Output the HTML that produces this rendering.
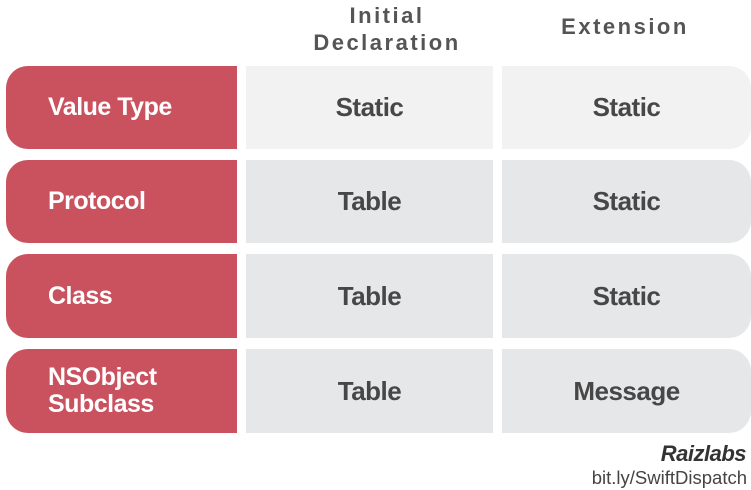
<!DOCTYPE html>
<html><head><style>
body{margin:0;width:751px;height:490px;background:#fff;position:relative;overflow:hidden;font-family:"Liberation Sans",sans-serif}
.a{position:absolute}
.r{background:#c9525e;border-radius:22px 0 0 22px;left:6px;width:231px;color:#fff;font-weight:bold;font-size:25px;display:flex;align-items:center;padding-left:42px;box-sizing:border-box;line-height:27px;letter-spacing:-0.5px}
.c{background:#e6e7e8;color:#474747;font-weight:bold;font-size:26px;display:flex;align-items:center;justify-content:center;letter-spacing:-0.5px}
.c2{left:246px;width:247px}
.c3{left:502px;width:249px;border-radius:0 22px 22px 0}
.h{color:#555;font-size:22px;font-weight:bold;letter-spacing:2.5px;text-align:center;line-height:27px}
</style></head><body>
<div class="a h" style="left:287px;width:200px;top:2px">Initial<br>Declaration</div>
<div class="a h" style="left:525px;width:200px;top:13px">Extension</div>

<div class="a r" style="top:66px;height:83px">Value Type</div>
<div class="a c c2" style="top:66px;height:83px;background:#f2f2f2">Static</div>
<div class="a c c3" style="top:66px;height:83px;background:#f2f2f2">Static</div>

<div class="a r" style="top:160px;height:83px">Protocol</div>
<div class="a c c2" style="top:160px;height:83px">Table</div>
<div class="a c c3" style="top:160px;height:83px">Static</div>

<div class="a r" style="top:254px;height:84px">Class</div>
<div class="a c c2" style="top:254px;height:84px">Table</div>
<div class="a c c3" style="top:254px;height:84px">Static</div>

<div class="a r" style="top:349px;height:84px">NSObject<br>Subclass</div>
<div class="a c c2" style="top:349px;height:84px">Table</div>
<div class="a c c3" style="top:349px;height:84px">Message</div>

<div class="a" style="right:5px;top:441px;font-size:22px;font-weight:bold;font-style:italic;color:#333;letter-spacing:-0.5px">Raizlabs</div>
<div class="a" style="right:4px;top:467px;font-size:18.5px;color:#444">bit.ly/SwiftDispatch</div>
</body></html>
